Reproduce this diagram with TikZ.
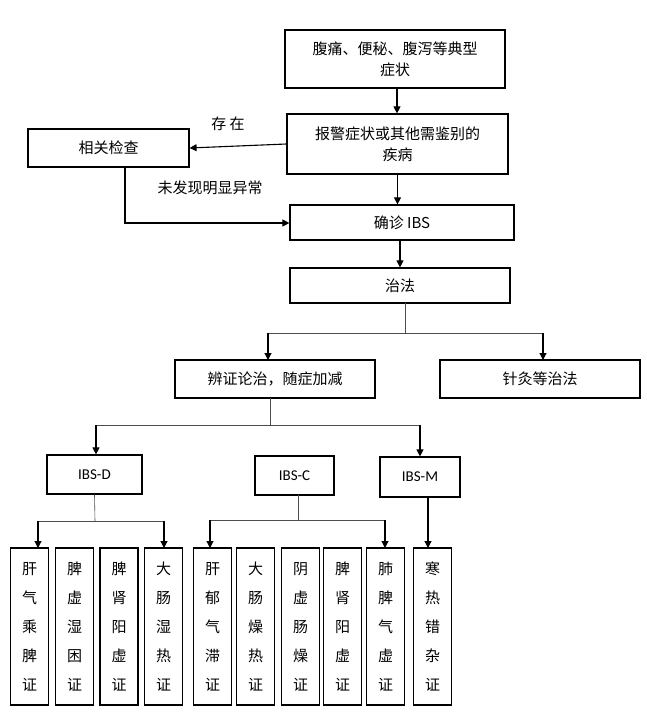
\documentclass[tikz,border=0pt]{standalone}
\usepackage{fontspec}
\setmainfont{Carlito}
\newfontfamily\cjk{Noto Sans CJK SC}
\usetikzlibrary{arrows.meta}
\begin{document}
\begin{tikzpicture}[x=1pt,y=-1pt,
  bx/.style={draw,line width=1.2pt,inner sep=0pt,font=\cjk\fontsize{15}{21}\selectfont,align=center},
  vb/.style={draw,line width=1.2pt,inner sep=0pt,minimum width=38pt,minimum height=157pt,font=\cjk\fontsize{15}{29}\selectfont,align=center},
  arr/.style={-{Triangle[length=7pt,width=7pt]},line width=1.1pt},
  thin/.style={line width=0.6pt,draw=black!70},
  lab/.style={font=\cjk\fontsize{15}{18}\selectfont}]
\useasboundingbox (0,0) rectangle (647,717);
\node[bx,minimum width=220pt,minimum height=58pt] (a) at (395,59) {腹痛、便秘、腹泻等典型\\症状};
\node[bx,minimum width=221pt,minimum height=60pt] (b) at (397.5,144) {报警症状或其他需鉴别的\\疾病};
\node[bx,minimum width=161pt,minimum height=38pt] (c) at (108.5,148) {相关检查};
\node[bx,minimum width=224pt,minimum height=35pt] (d) at (402,222.5) {确诊 IBS};
\node[bx,minimum width=220pt,minimum height=35pt] (e) at (400,285.5) {治法};
\node[bx,minimum width=200pt,minimum height=38pt] (f) at (275,379) {辨证论治，随症加减};
\node[bx,minimum width=200pt,minimum height=38pt] (g) at (540,379) {针灸等治法};
\node[bx,minimum width=95pt,minimum height=39pt,font=\fontsize{15}{18}\selectfont] (h) at (94.5,474.5) {IBS-D};
\node[bx,minimum width=79pt,minimum height=39pt,font=\fontsize{15}{18}\selectfont] (i) at (294.5,475.5) {IBS-C};
\node[bx,minimum width=80pt,minimum height=40pt,font=\fontsize{15}{18}\selectfont] (j) at (420,477) {IBS-M};
\node[vb] (k1) at (29.5,626.5) {肝\\气\\乘\\脾\\证};
\node[vb] (k2) at (74.5,626.5) {脾\\虚\\湿\\困\\证};
\node[vb] (k3) at (119,626.5) {脾\\肾\\阳\\虚\\证};
\node[vb] (k4) at (163.5,626.5) {大\\肠\\湿\\热\\证};
\node[vb] (m1) at (212.5,626.5) {肝\\郁\\气\\滞\\证};
\node[vb] (m2) at (255.5,626.5) {大\\肠\\燥\\热\\证};
\node[vb] (m3) at (300.5,626.5) {阴\\虚\\肠\\燥\\证};
\node[vb] (m4) at (342.5,626.5) {脾\\肾\\阳\\虚\\证};
\node[vb] (m5) at (385.5,626.5) {肺\\脾\\气\\虚\\证};
\node[vb] (n1) at (432.5,626.5) {寒\\热\\错\\杂\\证};
\node[lab] (t1) at (228,124) {存\ 在};
\node[lab] (t2) at (210,188) {未发现明显异常};
\draw[arr] (a.south-|397,0) -- (b.north-|397,0);
\draw[arr] (b.west) -- (c.east);
\draw[arr] (b.south) -- (b.south|-d.north);
\draw[arr] (c.south-|125,0) |- (d.west|-0,223);
\draw[arr] (e.north|-d.south) -- (e.north);
\coordinate (e1) at (405,333);
\draw[thin] (405,303) -- (e1);
\draw[thin] (268,333) -- (543,333);
\draw[arr] (268,333) -- (268,360);
\draw[arr] (543,333) -- (543,360);
\draw[thin] (270,398) -- (270,425);
\draw[thin] (96,425) -- (420,425);
\draw[arr] (96,425) -- (h.north-|96,0);
\draw[arr] (420,425) -- (j.north);
\draw[thin] (h.south) -- (95,521);
\draw[thin] (38,521) -- (164,521);
\draw[arr] (38,521) -- (38,548);
\draw[arr] (164,521) -- (164,548);
\draw[thin] (298,495) -- (298,520);
\draw[thin] (210,520) -- (385,520);
\draw[arr] (210,520) -- (210,548);
\draw[arr] (385,520) -- (385,548);
\draw[arr] (428,497) -- (428,548);
\end{tikzpicture}
\end{document}
